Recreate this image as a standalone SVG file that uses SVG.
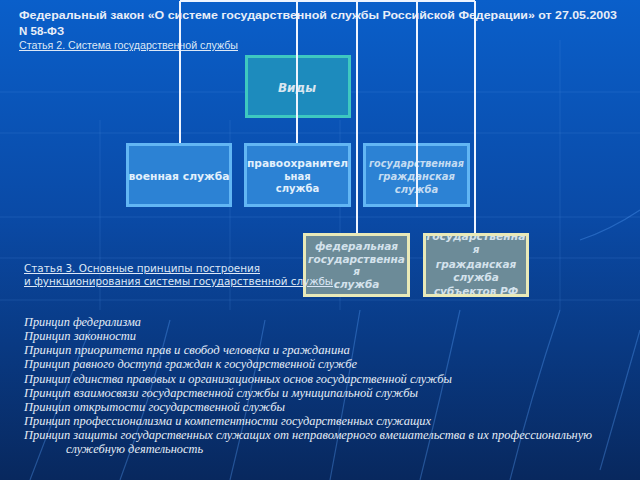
<svg xmlns="http://www.w3.org/2000/svg" width="640" height="480" viewBox="0 0 640 480">
<defs>
<linearGradient id="bg" x1="0" y1="0" x2="0" y2="1">
<stop offset="0" stop-color="#0a5fca"/>
<stop offset="0.45" stop-color="#0a4aa6"/>
<stop offset="1" stop-color="#08285e"/>
</linearGradient>
<style>
.grid{stroke:#5a9cf0;stroke-width:1;opacity:0.18;fill:none}
.ray{stroke:#5aa0f8;stroke-width:1.2;opacity:0.35;fill:none}
.conn{stroke:#eef4ff;stroke-width:2;fill:none}
.title{font-family:"Liberation Sans",Arial,sans-serif;font-weight:bold;font-size:11.5px;fill:#e8eef8}
.art{font-family:"Liberation Sans",Arial,sans-serif;font-size:10px;fill:#dde8f6;text-decoration:underline}
.art3{font-family:"DejaVu Sans",Verdana,sans-serif;font-size:10px;fill:#dde8f6;text-decoration:underline}
.li{font-family:"Liberation Serif","Times New Roman",serif;font-style:italic;font-size:12px;fill:#e4ecf6}
.bblue{fill:#2c82d4;stroke:#62b6f4;stroke-width:3}
.bteal{fill:#1d8bbd;stroke:#3ec8c0;stroke-width:3}
.bgray{fill:#6c8b98}
.bgrayS{fill:none;stroke:#e9e9b8;stroke-width:3}
.tb{font-family:"DejaVu Sans",Verdana,sans-serif;font-weight:bold;font-size:10px;fill:#e2f0fc;text-anchor:middle}
.tbi{font-family:"DejaVu Sans",Verdana,sans-serif;font-weight:bold;font-style:italic;font-size:10px;fill:#c4dcf2;text-anchor:middle}
.tgi{font-family:"DejaVu Sans",Verdana,sans-serif;font-weight:bold;font-style:italic;font-size:10.5px;fill:#d4e2ec;text-anchor:middle}
</style>
</defs>
<rect x="0" y="0" width="640" height="480" fill="url(#bg)"/>
<g id="background-grid">
<path class="grid" d="M0 133H640M0 217H640M0 258H640M0 300H640M0 92H640"/>
<path class="grid" d="M100 120V310M230 120V310M340 120V310M560 40V310"/>
<path class="ray" d="M30 480Q60 400 90 330M120 480Q150 400 170 320M230 480Q250 400 265 320M330 480Q345 400 360 310M420 480Q440 400 460 310M510 480Q530 400 560 310M600 470Q620 400 640 330M580 240Q610 230 640 210"/>
</g>
<g id="heading">
<text class="title" x="19" y="19" textLength="598" lengthAdjust="spacingAndGlyphs">Федеральный закон «О системе государственной службы Российской Федерации» от 27.05.2003</text>
<text class="title" x="19" y="35">N 58-ФЗ</text>
<text class="art" x="19" y="49" textLength="219" lengthAdjust="spacingAndGlyphs">Статья 2. Система государственной службы</text>
</g>
<g id="node-vidy">
<rect class="bteal" x="246.5" y="56.5" width="103" height="60"/>
<text class="tgi" x="297" y="92" style="font-size:12px;fill:#d8e6f0">Виды</text>
</g>
<g id="node-military">
<rect class="bblue" x="127.5" y="144.5" width="103" height="61"/>
<text class="tb" x="179" y="180" textLength="101" lengthAdjust="spacingAndGlyphs">военная служба</text>
</g>
<g id="node-law">
<rect class="bblue" x="245.5" y="144.5" width="104" height="61"/>
<text class="tb" x="297.5" y="167" textLength="101" lengthAdjust="spacingAndGlyphs">правоохранител</text>
<text class="tb" x="297.5" y="180">ьная</text>
<text class="tb" x="297.5" y="192">служба</text>
</g>
<g id="node-civil">
<rect class="bblue" x="364.5" y="144.5" width="104" height="61"/>
<text class="tbi" x="416.5" y="167" textLength="95" lengthAdjust="spacingAndGlyphs">государственная</text>
<text class="tbi" x="416.5" y="180">гражданская</text>
<text class="tbi" x="416.5" y="193">служба</text>
</g>
<g id="node-federal">
<rect class="bgray" x="304.5" y="234.5" width="104" height="61"/>
<text class="tgi" x="356.5" y="250">федеральная</text>
<text class="tgi" x="356.5" y="263" textLength="97" lengthAdjust="spacingAndGlyphs">государственна</text>
<text class="tgi" x="356.5" y="275">я</text>
<text class="tgi" x="356.5" y="288">служба</text>
<rect class="bgrayS" x="304.5" y="234.5" width="104" height="61"/>
</g>
<g id="node-subjects">
<rect class="bgray" x="424.5" y="234.5" width="103" height="61"/>
<text class="tgi" x="476" y="240" textLength="99" lengthAdjust="spacingAndGlyphs">государственна</text>
<text class="tgi" x="476" y="253">я</text>
<text class="tgi" x="476" y="268">гражданская</text>
<text class="tgi" x="476" y="281">служба</text>
<text class="tgi" x="476" y="295">субъектов РФ</text>
<rect class="bgrayS" x="424.5" y="234.5" width="103" height="61"/>
</g>
<g id="connectors">
<path class="conn" d="M180 1H475"/>
<path class="conn" d="M180 1V143"/>
<path class="conn" d="M297 1V143"/>
<path class="conn" d="M357 1V233"/>
<path class="conn" d="M417 1V207"/>
<path class="conn" d="M475 1V233"/>
</g>
<g id="article3">
<text class="art3" x="24" y="272" textLength="236" lengthAdjust="spacingAndGlyphs">Статья 3. Основные принципы построения</text>
<text class="art3" x="24" y="285" textLength="309" lengthAdjust="spacingAndGlyphs">и функционирования системы государственной службы</text>
</g>
<g id="principles">
<text class="li" x="24" y="326" textLength="117" lengthAdjust="spacingAndGlyphs">Принцип федерализма</text>
<text class="li" x="24" y="340" textLength="112" lengthAdjust="spacingAndGlyphs">Принцип законности</text>
<text class="li" x="24" y="354" textLength="326" lengthAdjust="spacingAndGlyphs">Принцип приоритета прав  и свобод человека и гражданина</text>
<text class="li" x="24" y="368" textLength="333" lengthAdjust="spacingAndGlyphs">Принцип равного доступа граждан к государственной службе</text>
<text class="li" x="24" y="383" textLength="428" lengthAdjust="spacingAndGlyphs">Принцип единства правовых и организационных основ государственной службы</text>
<text class="li" x="24" y="397" textLength="394" lengthAdjust="spacingAndGlyphs">Принцип взаимосвязи государственной службы и муниципальной службы</text>
<text class="li" x="24" y="411" textLength="261" lengthAdjust="spacingAndGlyphs">Принцип открытости государственной службы</text>
<text class="li" x="24" y="425" textLength="407" lengthAdjust="spacingAndGlyphs">Принцип профессионализма и компетентности государственных служащих</text>
<text class="li" x="24" y="439" textLength="568" lengthAdjust="spacingAndGlyphs">Принцип защиты государственных служащих от неправомерного вмешательства в их профессиональную</text>
<text class="li" x="66" y="453" textLength="137" lengthAdjust="spacingAndGlyphs">служебную деятельность</text>
</g>
</svg>
